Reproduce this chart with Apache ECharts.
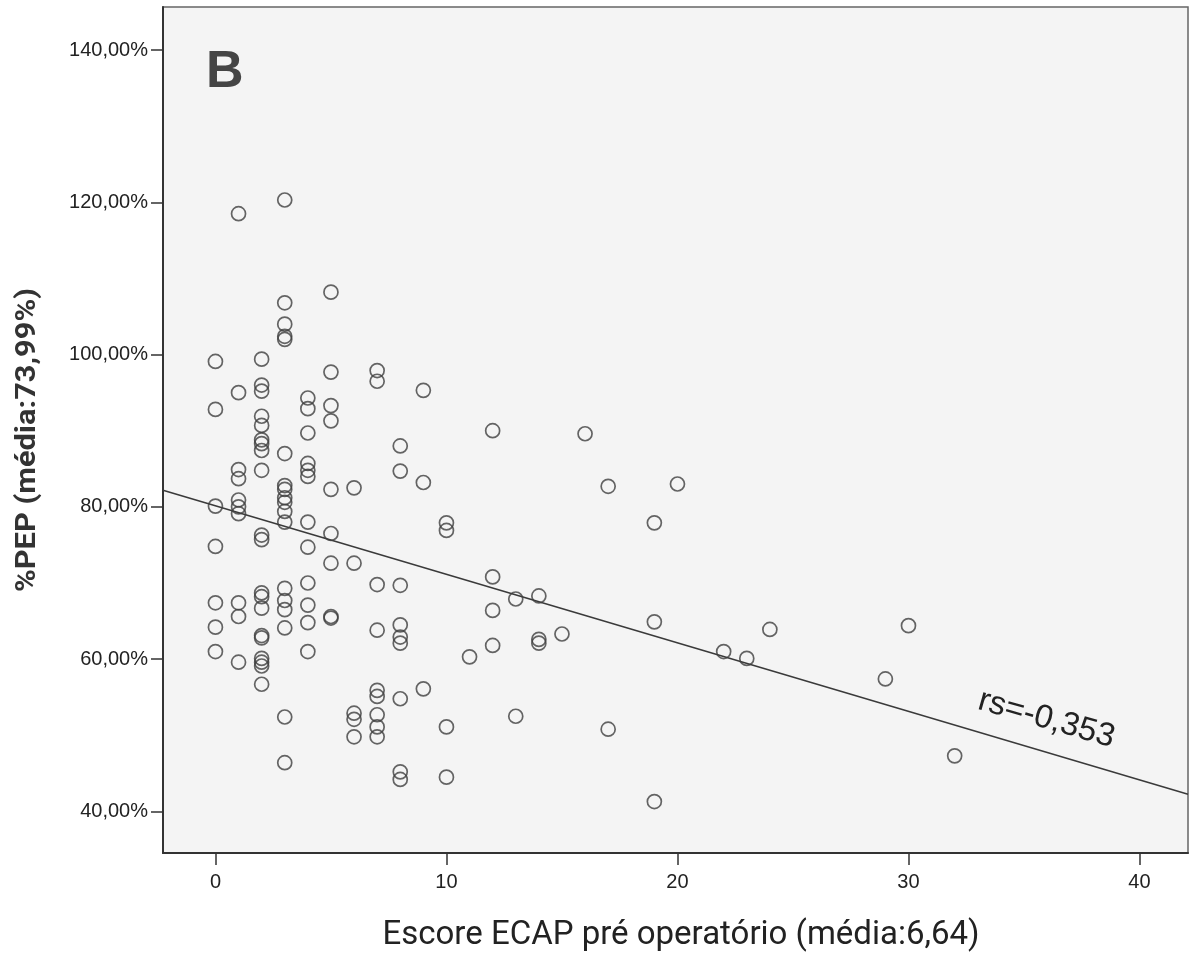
<!DOCTYPE html>
<html><head><meta charset="utf-8">
<script src="https://cdn.jsdelivr.net/npm/echarts@6/dist/echarts.min.js"></script>
<style>html,body{margin:0;padding:0;background:#fff}#c{width:1192px;height:954px}</style>
</head><body><div id="c"></div>
<script>
// Escore ECAP (x) and %PEP (y) pairs
const ecap = [
  0,0,0,0,0,0,0,
  1,1,1,1,1,1,1,1,1,1,
  2,2,2,2,2,2,2,2,2,2,2,2,2,2,2,2,2,2,2,2,
  3,3,3,3,3,3,3,3,3,3,3,3,3,3,3,3,3,3,
  4,4,4,4,4,4,4,4,4,4,4,4,
  5,5,5,5,5,5,5,5,5,
  6,6,6,6,6,
  7,7,7,7,7,7,7,7,7,
  8,8,8,8,8,8,8,8,8,
  9,9,9,
  10,10,10,10,
  11,
  12,12,12,12,
  13,13,
  14,14,14,
  15,
  16,
  17,17,
  19,19,19,
  20,
  22,
  23,
  24,
  29,
  30,
  32
];
const pep = [
  99.1,92.8,80.1,74.8,67.4,64.2,61.0,
  118.5,95.0,84.9,83.7,80.9,80.0,79.1,67.4,65.6,59.6,
  99.4,96.0,95.2,91.9,90.7,88.8,88.3,87.4,84.8,76.3,75.7,68.7,68.2,66.7,63.1,62.8,60.1,59.6,59.1,56.7,
  120.3,106.8,104.0,102.4,102.0,87.0,82.8,82.3,81.2,80.6,79.4,78.0,69.3,67.7,66.5,64.1,52.4,46.4,
  94.3,92.9,89.7,85.7,84.8,84.0,78.0,74.7,70.0,67.1,64.8,61.0,
  108.2,97.7,93.3,91.3,82.3,76.5,72.6,65.6,65.4,
  82.5,72.6,52.9,52.1,49.8,
  97.9,96.5,69.8,63.8,55.9,55.1,52.7,51.1,49.8,
  88.0,84.7,69.7,64.5,62.9,62.1,54.8,45.2,44.2,
  95.3,83.2,56.1,
  77.9,76.9,51.1,44.5,
  60.3,
  90.0,70.8,66.4,61.8,
  67.9,52.5,
  68.3,62.6,62.1,
  63.3,
  89.6,
  82.7,50.8,
  77.9,64.9,41.3,
  83.0,
  61.0,
  60.1,
  63.9,
  57.4,
  64.4,
  47.3
];
const xTicks = [0, 10, 20, 30, 40];
const yTicks = [40, 60, 80, 100, 120, 140];
const fitIntercept = 80.14;
const fitSlope = -0.90;
const xMin = -2.27, xMax = 42.1, yMin = 34.54, yMax = 145.65;
const rsLabel = 'rs=-0,353';
const panelLabel = 'B';
const xTitle = 'Escore ECAP pré operatório (média:6,64)';
const yTitle = '%PEP (média:73,99%)';

const points = ecap.map((x, i) => [x, pep[i]]);
const fit = x => fitIntercept + fitSlope * x;
const fitLine = [[xMin, fit(xMin)], [xMax, fit(xMax)]];

const chart = echarts.init(document.getElementById('c'), null, {renderer: 'canvas'});
const tickFont = 'Liberation Sans, Arial, sans-serif';
chart.setOption({
  animation: false,
  backgroundColor: '#ffffff',
  grid: {left: 163, right: 4, top: 7, bottom: 101, show: true,
         backgroundColor: '#f4f4f4', borderColor: '#666', borderWidth: 1.5},
  xAxis: {
    type: 'value', min: xMin, max: xMax,
    axisLine: {show: true, onZero: false, lineStyle: {color: '#333', width: 2}},
    axisTick: {show: true, customValues: xTicks, length: 12, lineStyle: {color: '#333', width: 1.5}},
    axisLabel: {customValues: xTicks, fontSize: 20, color: '#222', margin: 19, fontFamily: tickFont},
    splitLine: {show: false}
  },
  yAxis: {
    type: 'value', min: yMin, max: yMax,
    axisLine: {show: true, onZero: false, lineStyle: {color: '#333', width: 2}},
    axisTick: {show: true, customValues: yTicks, length: 12, lineStyle: {color: '#333', width: 1.5}},
    axisLabel: {customValues: yTicks, fontSize: 20, color: '#222', margin: 15, fontFamily: tickFont,
                formatter: v => v.toFixed(2).replace('.', ',') + '%'},
    splitLine: {show: false}
  },
  series: [
    {type: 'line', data: fitLine, showSymbol: false, silent: true,
     lineStyle: {color: '#3a3a3a', width: 1.5}, z: 2},
    {type: 'scatter', data: points, symbol: 'circle', symbolSize: 14, silent: true,
     itemStyle: {color: 'rgba(0,0,0,0)', borderColor: '#3f3f3f', borderWidth: 1.7}, z: 3}
  ]
});

const rsAt = chart.convertToPixel({gridIndex: 0}, [36.1, fit(36.1)]);
chart.setOption({
  graphic: [
    {type: 'text', x: 206, y: 47, style: {text: panelLabel, fontSize: 52, fontWeight: 'bold',
      fontFamily: 'Liberation Sans, Arial, sans-serif', fill: '#454545', textAlign: 'left', textVerticalAlign: 'top'}},
    {type: 'text', x: 681, y: 936, style: {text: xTitle, fontSize: 33,
      fontFamily: 'Roboto, sans-serif', fill: '#222', textAlign: 'center', textVerticalAlign: 'middle'}},
    {type: 'text', x: 28, y: 440, rotation: Math.PI / 2, scaleX: 1.1, style: {text: yTitle, fontSize: 28, fontWeight: 'bold',
      fontFamily: 'Roboto, sans-serif', fill: '#333', textAlign: 'center', textVerticalAlign: 'middle'}},
    {type: 'text', x: rsAt[0] - 3, y: rsAt[1] - 34, rotation: -16 * Math.PI / 180, style: {text: rsLabel, fontSize: 33,
      fontFamily: 'Liberation Sans, Arial, sans-serif', fill: '#222', textAlign: 'center', textVerticalAlign: 'middle'}}
  ]
});
</script></body></html>
